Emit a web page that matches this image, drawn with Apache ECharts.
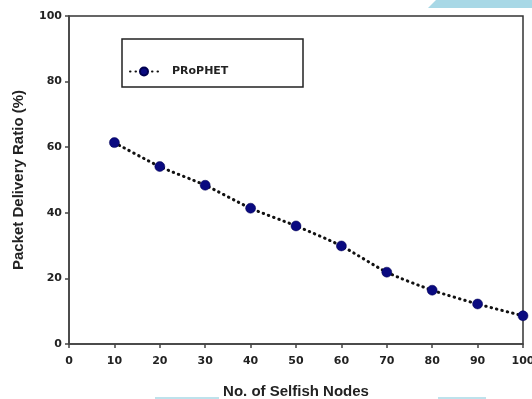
<!DOCTYPE html>
<html>
<head>
<meta charset="utf-8">
<script src="https://cdn.jsdelivr.net/npm/echarts@6/dist/echarts.min.js"></script>
<style>
    html, body { margin: 0; padding: 0; background: #fff; }
    #chart { width: 532px; height: 399px; }
</style>
</head>
<body>
<div id="chart"></div>
<script>
// selfish node counts and delivery ratio
const selfishNodes = [10, 20, 30, 40, 50, 60, 70, 80, 90, 100];
const prophetRatio = [61.4, 54.1, 48.4, 41.4, 36.0, 29.9, 21.9, 16.4, 12.2, 8.6];
const seriesName = 'PRoPHET';

const chart = echarts.init(document.getElementById('chart'));
const font = '"Liberation Sans", Arial, sans-serif';
const wideFont = '"DejaVu Sans", sans-serif';

const options = {
    animation: false,
    textStyle: { fontFamily: font },
    graphic: [
        // faint blue decorations from the scan
        {
            type: 'polygon',
            shape: { points: [[428, 8], [436, 0], [532, 0], [532, 8]] },
            style: { fill: '#a8d8e6' },
            silent: true
        },
        {
            type: 'line',
            shape: { x1: 155, y1: 398, x2: 219, y2: 398 },
            style: { stroke: '#a8d8e6', lineWidth: 1.5 },
            silent: true
        },
        {
            type: 'line',
            shape: { x1: 438, y1: 398, x2: 486, y2: 398 },
            style: { stroke: '#a8d8e6', lineWidth: 1.5 },
            silent: true
        },
        // legend frame
        {
            type: 'rect',
            shape: { x: 122, y: 39, width: 181, height: 48 },
            style: { fill: 'none', stroke: '#222', lineWidth: 1.5 },
            z: 10
        }
    ],
    legend: {
        left: 129,
        top: 66,
        padding: 0,
        itemWidth: 28,
        itemHeight: 10,
        textStyle: {
            fontFamily: wideFont, fontWeight: 'bold', fontSize: 11, color: '#222',
            padding: [0, 0, 0, 9]
        },
        data: [seriesName]
    },
    grid: {
        left: 69,
        right: 9,
        top: 16,
        bottom: 55,
        outerBoundsMode: 'none',
        containLabel: false,
        show: true,
        borderColor: '#333',
        borderWidth: 1.5
    },
    xAxis: {
        type: 'value',
        min: 0,
        max: 100,
        interval: 10,
        name: 'No. of Selfish Nodes',
        nameLocation: 'middle',
        nameGap: 40,
        nameTextStyle: { fontFamily: font, fontWeight: 'bold', fontSize: 15, color: '#222' },
        axisLine: { lineStyle: { color: '#444', width: 1.5 } },
        axisTick: { inside: false, length: 4, lineStyle: { color: '#444', width: 1.5 } },
        axisLabel: { fontFamily: wideFont, fontWeight: 'bold', fontSize: 11, color: '#222', margin: 12 },
        splitLine: { show: false }
    },
    yAxis: {
        type: 'value',
        min: 0,
        max: 100,
        interval: 20,
        name: 'Packet Delivery Ratio (%)',
        nameLocation: 'middle',
        nameGap: 43,
        nameTextStyle: { fontFamily: font, fontWeight: 'bold', fontSize: 15, color: '#222' },
        axisLine: { show: true, lineStyle: { color: '#444', width: 1.5 } },
        axisTick: { show: true, inside: false, length: 4, lineStyle: { color: '#444', width: 1.5 } },
        axisLabel: { fontFamily: wideFont, fontWeight: 'bold', fontSize: 11, color: '#222', margin: 7 },
        splitLine: { show: false }
    },
    series: [{
        name: seriesName,
        type: 'line',
        smooth: 0.25,
        data: selfishNodes.map((x, i) => [x, prophetRatio[i]]),
        symbol: 'circle',
        symbolSize: 10,
        itemStyle: { color: '#0a0a80', borderColor: '#000050', borderWidth: 0.5 },
        lineStyle: { color: '#111', width: 3, type: [0.5, 5], cap: 'round' },
        clip: false,
        z: 5
    }]
};

chart.setOption(options);
</script>
</body>
</html>
